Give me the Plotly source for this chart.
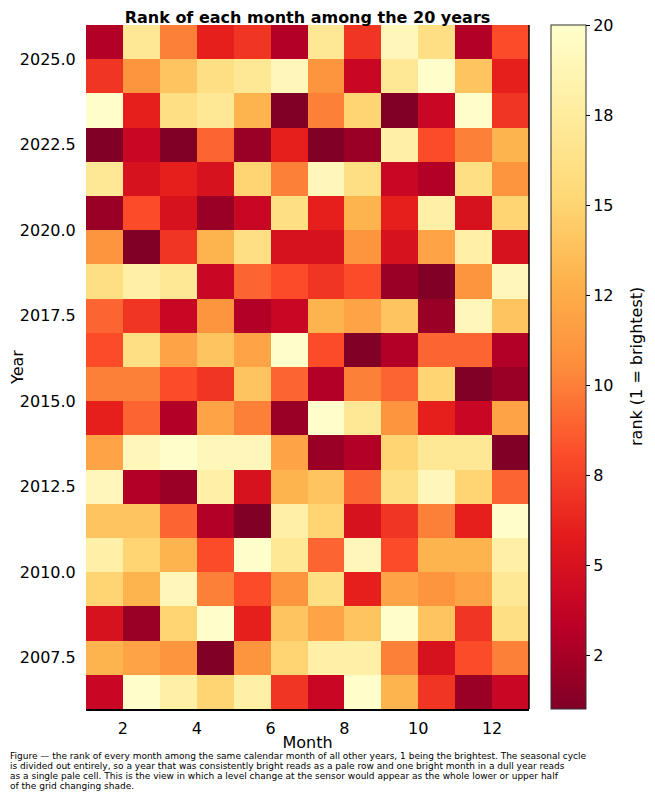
import plotly.graph_objects as go

# calendar months and years shown in the grid
months = [1, 2, 3, 4, 5, 6, 7, 8, 9, 10, 11, 12]
years = [2006, 2007, 2008, 2009, 2010, 2011, 2012, 2013, 2014, 2015,
         2016, 2017, 2018, 2019, 2020, 2021, 2022, 2023, 2024, 2025]

# rank of each month among the 20 years (1 = brightest), one row per year
ranks = [
    [4, 20, 18, 15, 18, 7, 4, 20, 13, 7, 2, 4],        # 2006
    [13, 12, 11, 1, 11, 15, 18, 18, 10, 5, 8, 10],     # 2007
    [5, 2, 15, 20, 6, 14, 12, 14, 20, 14, 7, 16],      # 2008
    [15, 13, 19, 10, 8, 11, 16, 6, 12, 11, 12, 17],    # 2009
    [18, 15, 13, 8, 20, 17, 9, 19, 8, 13, 13, 18],     # 2010
    [14, 14, 9, 3, 1, 18, 15, 5, 7, 10, 6, 20],        # 2011
    [19, 3, 2, 18, 5, 13, 14, 9, 16, 19, 15, 9],       # 2012
    [12, 19, 20, 19, 19, 12, 2, 3, 15, 17, 17, 1],     # 2013
    [6, 9, 3, 12, 10, 2, 20, 17, 11, 6, 4, 12],        # 2014
    [10, 10, 8, 7, 14, 9, 3, 10, 9, 15, 1, 2],         # 2015
    [8, 16, 12, 14, 12, 20, 8, 1, 3, 9, 9, 3],         # 2016
    [9, 7, 4, 11, 3, 4, 13, 12, 14, 2, 19, 14],        # 2017
    [16, 18, 17, 4, 9, 8, 7, 8, 2, 1, 11, 19],         # 2018
    [11, 1, 7, 13, 16, 5, 5, 11, 5, 12, 18, 5],        # 2019
    [2, 8, 5, 2, 4, 16, 6, 13, 6, 18, 5, 15],          # 2020
    [17, 5, 6, 5, 15, 10, 19, 16, 4, 3, 16, 11],       # 2021
    [1, 4, 1, 9, 2, 6, 1, 2, 18, 8, 10, 13],           # 2022
    [20, 6, 16, 17, 13, 1, 10, 15, 1, 4, 20, 7],       # 2023
    [7, 11, 14, 16, 17, 19, 11, 4, 17, 20, 14, 6],     # 2024
    [3, 17, 10, 6, 7, 3, 17, 7, 19, 16, 3, 8],         # 2025
]

# colorbar ticks (matplotlib style labels rounded from even spacing)
cbar_tickvals = [2.5, 5, 7.5, 10, 12.5, 15, 17.5, 20]
cbar_ticktext = ["2", "5", "8", "10", "12", "15", "18", "20"]

caption_lines = [
    "Figure — the rank of every month among the same calendar month of all other years, "
    "1 being the brightest. The seasonal cycle",
    "is divided out entirely, so a year that was consistently bright reads as a pale row "
    "and one bright month in a dull year reads",
    "as a single pale cell. This is the view in which a level change at the sensor would "
    "appear as the whole lower or upper half",
    "of the grid changing shade.",
]

# YlOrRd reversed: rank 1 darkest red, rank 20 palest yellow
ylorrd_r = ["#800026", "#bd0026", "#e31a1c", "#fc4e2a", "#fd8d3c",
            "#feb24c", "#fed976", "#ffeda0", "#ffffcc"]
colorscale = [[i / (len(ylorrd_r) - 1), c] for i, c in enumerate(ylorrd_r)]

FONT = "DejaVu Sans"
# the page body adds an 8 px margin, so the figure is 16 px smaller than the window
W, H = 639, 784
L, R, T, B = 78, 118, 17, 83
PW, PH = W - L - R, H - T - B

# cell edges, each month / year spans one unit
x_edges = months + [months[-1] + 1]
y_edges = years + [years[-1] + 1]

fig = go.Figure(go.Heatmap(
    z=ranks,
    x=x_edges,
    y=y_edges,
    zmin=1,
    zmax=20,
    colorscale=colorscale,
    colorbar=dict(
        tickvals=cbar_tickvals,
        ticktext=cbar_ticktext,
        ticks="outside",
        ticklen=4,
        tickcolor="black",
        tickfont=dict(family=FONT, size=16, color="black"),
        thickness=35,
        thicknessmode="pixels",
        len=1,
        lenmode="fraction",
        x=1.05,
        xanchor="left",
        xpad=0,
        ypad=0,
        y=0.5,
        yanchor="middle",
        outlinewidth=1,
        outlinecolor="#333333",
    ),
))

fig.update_layout(
    width=W,
    height=H,
    paper_bgcolor="white",
    plot_bgcolor="white",
    margin=dict(l=L, r=R, t=T, b=B, autoexpand=False),
    font=dict(family=FONT, color="black"),
    title=dict(text="<b>Rank of each month among the 20 years</b>",
               x=(L + PW / 2) / W, xanchor="center",
               y=1 - 9.5 / H, yanchor="middle",
               font=dict(family=FONT, size=16, color="black")),
)

fig.update_xaxes(
    range=[1, 13],
    tickmode="linear", tick0=2, dtick=2,
    ticks="outside", ticklen=4, tickcolor="rgba(0,0,0,0)",
    showgrid=False, zeroline=False,
    showline=True, linecolor="black", linewidth=1.5,
    tickfont=dict(size=16),
    title=dict(text="Month", font=dict(size=16), standoff=0),
)
fig.update_yaxes(
    range=[2006, 2026],
    tickmode="linear", tick0=2007.5, dtick=2.5, tickformat=".1f",
    ticks="outside", ticklen=6, tickcolor="rgba(0,0,0,0)",
    showgrid=False, zeroline=False, showline=False,
    tickfont=dict(size=16),
    title=dict(text="Year", font=dict(size=16), standoff=8),
)

# right-hand frame line
fig.add_shape(type="line", xref="paper", yref="paper", x0=1, x1=1, y0=0, y1=1,
              line=dict(color="black", width=1.5))

# colorbar label
fig.add_annotation(
    text="rank (1 = brightest)", xref="paper", yref="paper",
    x=(628 - L) / PW, y=0.5, xanchor="center", yanchor="middle",
    textangle=-90, showarrow=False,
    font=dict(family=FONT, size=16, color="black"),
)

# caption, one annotation per line for tight line spacing
for i, line in enumerate(caption_lines):
    fig.add_annotation(
        text=line, xref="paper", yref="paper",
        x=(0 - L) / PW, y=-(748 + 10 * i - (T + PH)) / PH,
        xanchor="left", yanchor="middle", align="left", showarrow=False,
        font=dict(family=FONT, size=9, color="black"),
    )

fig.write_html("out.html")
